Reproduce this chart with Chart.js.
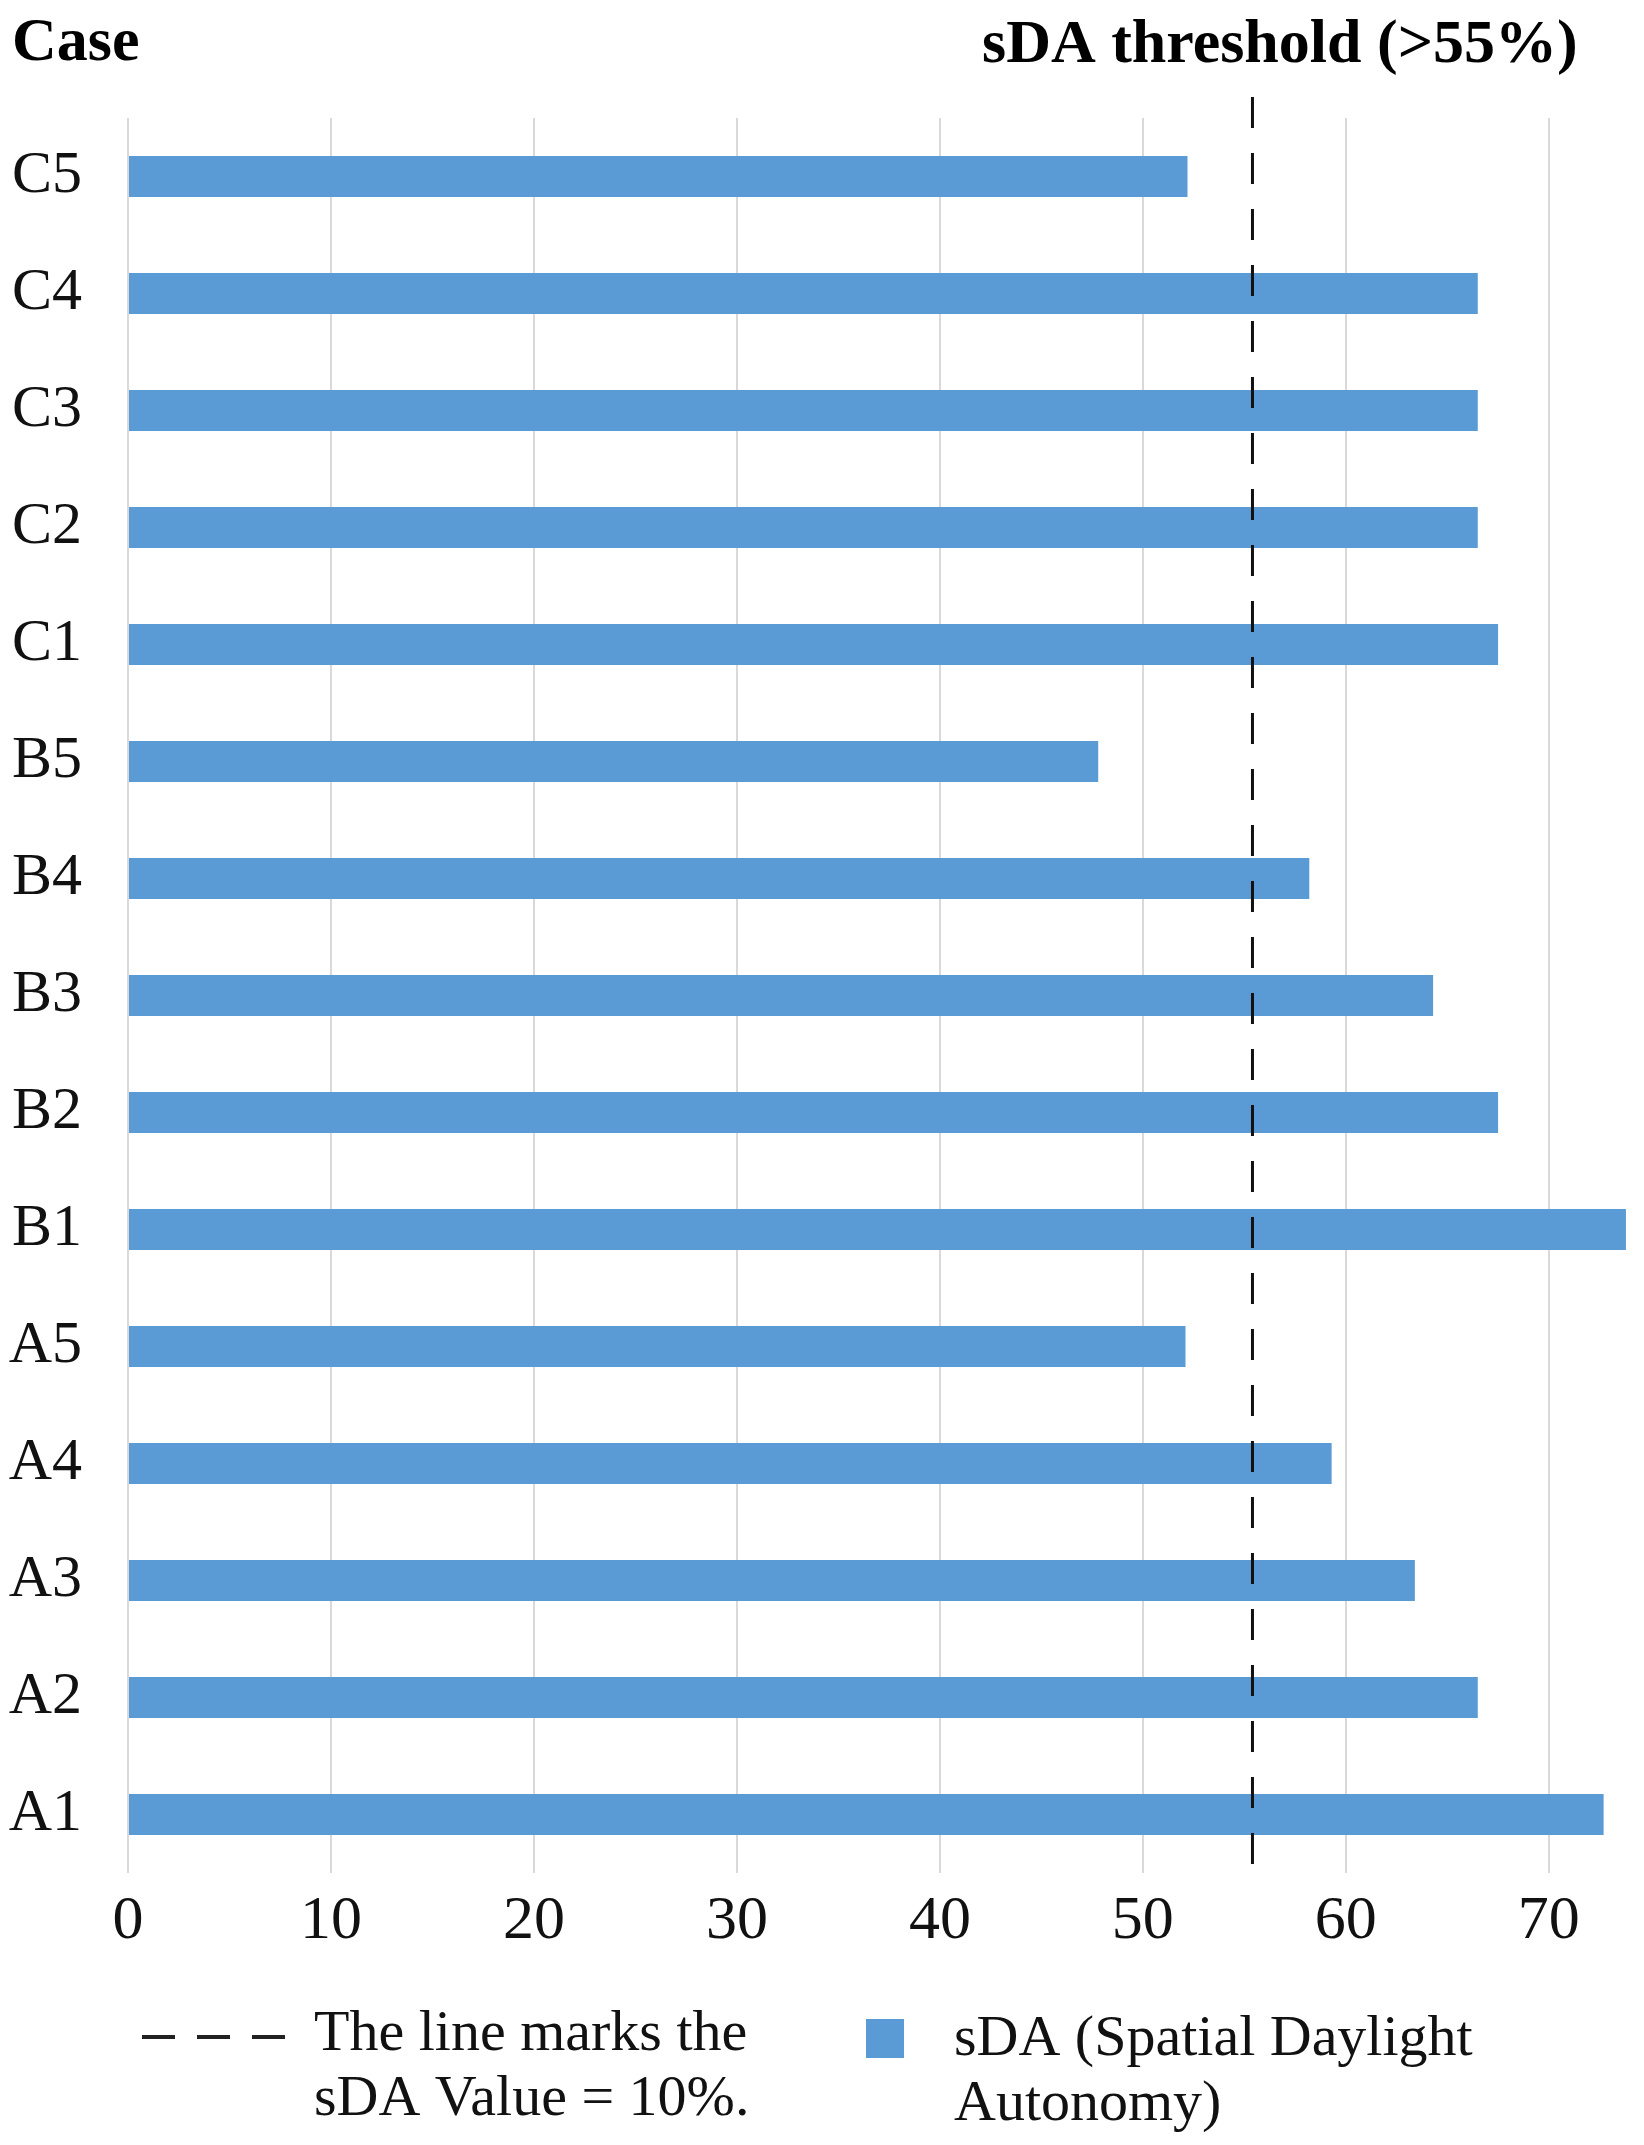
<!DOCTYPE html>
<html>
<head>
<meta charset="utf-8">
<script src="https://cdn.jsdelivr.net/npm/chart.js@4/dist/chart.umd.min.js"></script>
<style>
  html, body { margin: 0; padding: 0; background: #fff; }
  #wrap { width: 1644px; height: 2145px; position: relative; }
</style>
</head>
<body>
<div id="wrap"><canvas id="myChart" width="1644" height="2145"></canvas></div>
<script>
// cases, top to bottom as in the figure
const cases = ['C5', 'C4', 'C3', 'C2', 'C1', 'B5', 'B4', 'B3', 'B2', 'B1', 'A5', 'A4', 'A3', 'A2', 'A1'];
// sDA values (%)
const sdaValues = [52.2, 66.5, 66.5, 66.5, 67.5, 47.8, 58.2, 64.3, 67.5, 73.8, 52.1, 59.3, 63.4, 66.5, 72.7];
const xTicks = [0, 10, 20, 30, 40, 50, 60, 70];
const threshold = 55.4;

const leftTitle = 'Case';
const rightTitle = 'sDA threshold (>55%)';
const lineLegend = ['The line marks the', 'sDA Value = 10%.'];
const barLegend = ['sDA (Spatial Daylight', 'Autonomy)'];

const serif = '"Liberation Serif", "Times New Roman", serif';
const blue = '#5B9BD5';

// dashed threshold line + titles + legend
const extras = {
    id: 'extras',
    afterDatasetsDraw(chart) {
        const ctx = chart.ctx;
        const x = chart.scales.x.getPixelForValue(threshold);
        ctx.save();
        ctx.strokeStyle = '#111';
        ctx.lineWidth = 3;
        ctx.setLineDash([31, 25]);
        ctx.beginPath();
        ctx.moveTo(x, 97);
        ctx.lineTo(x, 1884);
        ctx.stroke();
        ctx.restore();
    },
    afterDraw(chart) {
        const ctx = chart.ctx;
        ctx.save();
        ctx.fillStyle = '#000';
        ctx.textBaseline = 'alphabetic';
        ctx.font = 'bold 62px ' + serif;
        ctx.fillText(leftTitle, 12, 60);
        ctx.fillText(rightTitle, 982, 62);

        // legend: dashed line
        ctx.strokeStyle = '#222';
        ctx.lineWidth = 4;
        ctx.setLineDash([33, 22]);
        ctx.beginPath();
        ctx.moveTo(142, 2037);
        ctx.lineTo(285, 2037);
        ctx.stroke();
        ctx.setLineDash([]);

        ctx.font = '58px ' + serif;
        ctx.fillStyle = '#111';
        ctx.fillText(lineLegend[0], 314, 2050);
        ctx.fillText(lineLegend[1], 314, 2115);

        // legend: bar swatch
        ctx.fillStyle = blue;
        ctx.fillRect(866, 2019, 38, 39);
        ctx.fillStyle = '#111';
        ctx.fillText(barLegend[0], 954, 2055);
        ctx.fillText(barLegend[1], 954, 2120);
        ctx.restore();
    }
};

const ctx = document.getElementById('myChart').getContext('2d');
const myChart = new Chart(ctx, {
    type: 'bar',
    data: {
        labels: cases,
        datasets: [{
            label: 'sDA (Spatial Daylight Autonomy)',
            data: sdaValues,
            backgroundColor: blue,
            borderWidth: 0,
            categoryPercentage: 1,
            barPercentage: 0.35
        }]
    },
    options: {
        indexAxis: 'y',
        responsive: false,
        animation: false,
        layout: { padding: { top: 118, right: 14, bottom: 182, left: 0 } },
        plugins: {
            legend: { display: false },
            tooltip: { enabled: false }
        },
        scales: {
            x: {
                min: 0,
                max: 74,
                afterBuildTicks(axis) {
                    axis.ticks = xTicks.map(v => ({ value: v }));
                },
                afterFit(scale) { scale.height = 90; },
                grid: { color: '#d9d9d9', lineWidth: 2, drawTicks: false },
                border: { display: false },
                ticks: {
                    padding: 12,
                    color: '#111',
                    font: { family: serif, size: 62 }
                }
            },
            y: {
                afterFit(scale) { scale.width = 128; },
                grid: { display: false, drawTicks: false },
                border: { display: false },
                ticks: {
                    padding: 46,
                    color: '#111',
                    font: { family: serif, size: 60 }
                }
            }
        }
    },
    plugins: [extras]
});
</script>
</body>
</html>
